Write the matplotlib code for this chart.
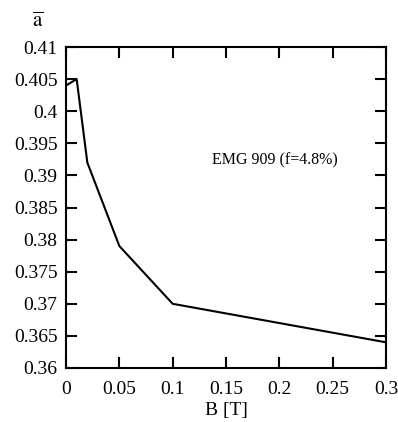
import matplotlib
matplotlib.use("Agg")
import matplotlib.pyplot as plt

B = [0.0, 0.01, 0.02, 0.05, 0.1, 0.3]
a = [0.404, 0.405, 0.392, 0.379, 0.370, 0.364]
xticks = [0, 0.05, 0.1, 0.15, 0.2, 0.25, 0.3]
xticklabels = ["0", "0.05", "0.1", "0.15", "0.2", "0.25", "0.3"]
yticks = [0.36, 0.365, 0.37, 0.375, 0.38, 0.385, 0.39, 0.395, 0.4, 0.405, 0.41]
yticklabels = ["0.36", "0.365", "0.37", "0.375", "0.38", "0.385", "0.39", "0.395", "0.4", "0.405", "0.41"]

plt.rcParams['font.family'] = ['Liberation Serif', 'DejaVu Serif']
plt.rcParams['mathtext.fontset'] = 'stix'

fig = plt.figure(figsize=(3.98, 4.22), dpi=100)
ax = fig.add_axes([66/398, 1-368/422, 320/398, 321/422])
ax.plot(B, a, color='black', lw=1.5)
ax.set_xlim(0, 0.3)
ax.set_ylim(0.36, 0.41)
ax.set_xticks(xticks)
ax.set_xticklabels(xticklabels, fontsize=14)
ax.set_yticks(yticks)
ax.set_yticklabels(yticklabels, fontsize=14)
ax.tick_params(direction='in', length=8, width=1.5, top=True, right=True, pad=6)
ax.tick_params(axis='x', pad=9)
for s in ax.spines.values():
    s.set_linewidth(1.5)
ax.text(0.196, 0.3924, "EMG 909 (f=4.8%)", fontsize=11.5, ha='center', va='center')
ax.set_xlabel("B [T]", fontsize=14, labelpad=3)
fig.text(38/398, 1-22/422, r"$\overline{\mathrm{a}}$", fontsize=15, ha='center', va='center')
fig.savefig("out.png", dpi=100)
